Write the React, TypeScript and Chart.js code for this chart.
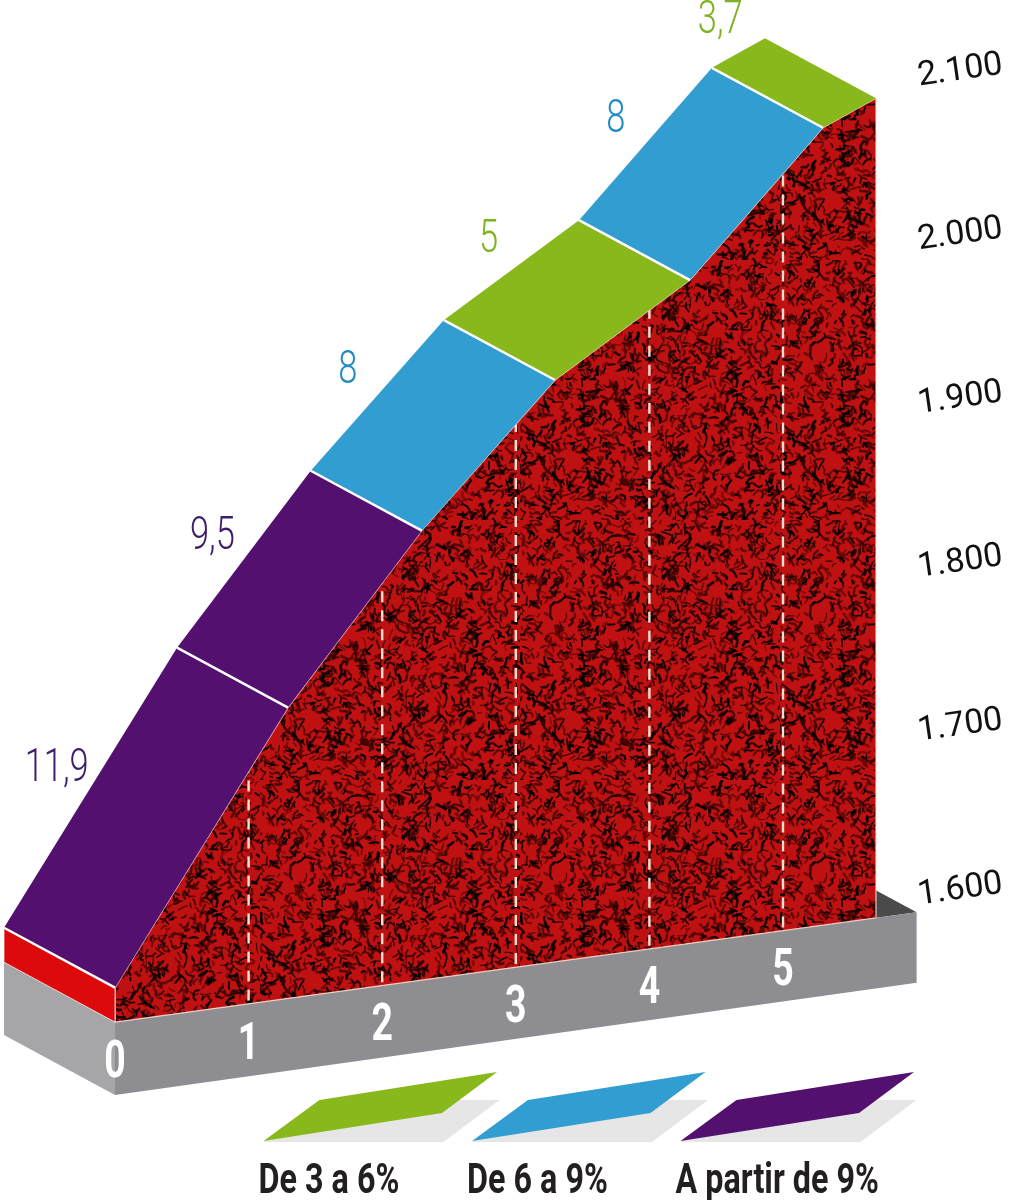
import React, { useEffect, useRef } from 'react';
import { Chart, registerables } from 'chart.js';

Chart.register(...registerables);

// ---------------- data ----------------
const kmTicks = [0, 1, 2, 3, 4, 5];
const altTicks = [1600, 1700, 1800, 1900, 2000, 2100];
// front edge of the climb profile (km, altitude on the drawn axis)
const profileKm = [0, 1.295, 2.296, 3.293, 4.304, 5.299, 5.696];
const profileAlt = [1544, 1715, 1823, 1915, 1976, 2069, 2087];
// gradient (%) of each stretch between the profile points
const gradients = [11.9, 9.5, 8, 5, 8, 3.7];
const gradientLabels = ['11,9', '9,5', '8', '5', '8', '3,7'];
// grey base slab (front face)
const baseKm = [0, 6.0];
const baseTopAlt = [1523, 1590];
const baseBottomAlt = [1478.5, 1547];
const legendLabels = ['De 3 a 6%', 'De 6 a 9%', 'A partir de 9%'];

// ---------------- style / geometry ----------------
const GREEN = '#88b81c';
const BLUE = '#329dd0';
const PURPLE = '#54106f';
const legendColors = [GREEN, BLUE, PURPLE];
const classColor = (g: number) => (g < 6 ? GREEN : g < 9 ? BLUE : PURPLE);
const labelColor = (g: number) => (g < 6 ? '#7db322' : g < 9 ? '#238bc4' : '#3b1d6d');

const DEPTH_KM = -0.831; // pseudo-3D depth offset (x)
const DEPTH_ALT = 36.6; // pseudo-3D depth offset (y)
const X_MIN = -0.8608;
const X_MAX = 6.0105;
const Y_MIN = 1414.4;
const Y_MAX = 2147.0;

function interp(xs: number[], ys: number[], v: number) {
  for (let i = 0; i < xs.length - 1; i++) {
    if (v <= xs[i + 1] || i === xs.length - 2) {
      const t = (v - xs[i]) / (xs[i + 1] - xs[i]);
      return ys[i] + t * (ys[i + 1] - ys[i]);
    }
  }
  return ys[0];
}

const fmt = (v: number) => `${Math.floor(v / 1000)}.${String(Math.round(v % 1000)).padStart(3, '0')}`;

function makeTexture(): any {
  const W = 260;
  const c = document.createElement('canvas');
  c.width = W;
  c.height = W;
  const g = c.getContext('2d');
  if (!g) return '#a80d0d';
  g.fillStyle = '#bf1111';
  g.fillRect(0, 0, W, W);
  let s = 987654321;
  const rnd = () => {
    s = (Math.imul(s, 1103515245) + 12345) >>> 0;
    return s / 4294967296;
  };
  g.lineCap = 'round';
  g.lineJoin = 'round';
  for (let i = 0; i < 2100; i++) {
    const x = rnd() * W;
    const y = rnd() * W;
    const a = rnd() * Math.PI * 2;
    const l = 1.5 + rnd() * 4.5;
    const b = a + (rnd() - 0.5) * 2.2;
    g.strokeStyle = `rgba(${rnd() < 0.25 ? 70 : 0},0,0,${0.4 + rnd() * 0.55})`;
    g.lineWidth = 1.1 + rnd() * 1.7;
    g.beginPath();
    g.moveTo(x, y);
    const mx = x + Math.cos(a) * l;
    const my = y + Math.sin(a) * l;
    g.lineTo(mx, my);
    g.lineTo(mx + Math.cos(b) * l * 0.7, my + Math.sin(b) * l * 0.7);
    g.stroke();
  }
  return g.createPattern(c, 'repeat') || '#a80d0d';
}

type P = { x: number; y: number };
const pt = (x: number, y: number): P => ({ x, y });
const back = (x: number, y: number): P => ({ x: x + DEPTH_KM, y: y + DEPTH_ALT });

const poly = (pts: P[], fill: any, stroke?: string, strokeWidth?: number) => ({
  type: 'line',
  data: pts,
  showLine: false,
  pointRadius: 0,
  clip: false,
  poly: { fill, stroke, strokeWidth },
});

const seg = (pts: P[], color: string, width: number, dash: number[] = []) => ({
  type: 'line',
  data: pts,
  showLine: true,
  borderColor: color,
  borderWidth: width,
  borderDash: dash,
  borderCapStyle: 'butt',
  pointRadius: 0,
  fill: false,
  tension: 0,
  clip: false,
});

function buildDatasets(texture: any) {
  const layers: any[] = [];
  const k0 = baseKm[0];
  const k1 = baseKm[1];
  // base top surface (dark)
  layers.push(poly([pt(k0, baseTopAlt[0]), pt(k1, baseTopAlt[1]), back(k1, baseTopAlt[1]), back(k0, baseTopAlt[0])], '#4a4a4b'));
  // base left face
  layers.push(poly([back(k0, baseTopAlt[0]), pt(k0, baseTopAlt[0]), pt(k0, baseBottomAlt[0]), back(k0, baseBottomAlt[0])], '#a6a6a9'));
  // base front face
  layers.push(poly([pt(k0, baseTopAlt[0]), pt(k1, baseTopAlt[1]), pt(k1, baseBottomAlt[1]), pt(k0, baseBottomAlt[0])], '#8e8e92'));
  // red front face of the mountain
  const endKm = profileKm[profileKm.length - 1];
  const face = profileKm.map((k, i) => pt(k, profileAlt[i]));
  face.push(pt(endKm, interp(baseKm, baseTopAlt, endKm)));
  face.push(pt(k0, baseTopAlt[0]));
  layers.push(poly(face, texture, 'rgba(255,226,212,0.85)', 1.2));
  // red side strip at the start
  layers.push(
    poly(
      [pt(profileKm[0], profileAlt[0]), back(profileKm[0], profileAlt[0]), back(k0, baseTopAlt[0]), pt(k0, baseTopAlt[0])],
      '#dc0a0a',
      'rgba(255,255,255,0.7)',
      1
    )
  );
  // dashed km markers
  kmTicks.slice(1).forEach((k) =>
    layers.push(seg([pt(k, interp(baseKm, baseTopAlt, k) + 2), pt(k, interp(profileKm, profileAlt, k))], '#f7dfcf', 2.4, [11, 8]))
  );
  // coloured top band
  gradients.forEach((g, i) =>
    layers.push(
      poly(
        [pt(profileKm[i], profileAlt[i]), pt(profileKm[i + 1], profileAlt[i + 1]), back(profileKm[i + 1], profileAlt[i + 1]), back(profileKm[i], profileAlt[i])],
        classColor(g)
      )
    )
  );
  // white separators between stretches
  for (let i = 0; i < profileKm.length - 1; i++) {
    layers.push(seg([pt(profileKm[i], profileAlt[i]), back(profileKm[i], profileAlt[i])], '#ffffff', 2.5));
  }
  const n = layers.length;
  return layers.map((d, i) => ({ ...d, order: n - i }));
}

const polyPlugin = {
  id: 'polyFill',
  beforeDatasetDraw(chart: any, args: any) {
    const ds = chart.data.datasets[args.index];
    if (!ds || !ds.poly) return;
    const pts = args.meta.data;
    if (!pts || !pts.length) return;
    const ctx = chart.ctx;
    ctx.save();
    ctx.beginPath();
    pts.forEach((p: any, i: number) => (i ? ctx.lineTo(p.x, p.y) : ctx.moveTo(p.x, p.y)));
    ctx.closePath();
    ctx.fillStyle = ds.poly.fill;
    ctx.fill();
    if (ds.poly.stroke) {
      ctx.strokeStyle = ds.poly.stroke;
      ctx.lineWidth = ds.poly.strokeWidth || 1;
      ctx.lineJoin = 'round';
      ctx.stroke();
    }
    ctx.restore();
  },
};

function drawText(ctx: any, text: string, cx: number, cy: number, font: string, size: number, color: string, sx: number, align = 'center') {
  ctx.save();
  ctx.translate(cx, cy + size * 0.711 * 0.5);
  ctx.scale(sx, 1);
  ctx.font = font;
  ctx.fillStyle = color;
  ctx.textAlign = align;
  ctx.textBaseline = 'alphabetic';
  ctx.fillText(text, 0, 0);
  ctx.restore();
}

const textPlugin = {
  id: 'climbText',
  afterDatasetsDraw(chart: any) {
    const { ctx } = chart;
    const xs = chart.scales.x;
    const ys = chart.scales.y;
    // gradient labels beside the back edge of each stretch
    gradients.forEach((g, i) => {
      const b0 = back(profileKm[i], profileAlt[i]);
      const b1 = back(profileKm[i + 1], profileAlt[i + 1]);
      const x0 = xs.getPixelForValue(b0.x);
      const y0 = ys.getPixelForValue(b0.y);
      const x1 = xs.getPixelForValue(b1.x);
      const y1 = ys.getPixelForValue(b1.y);
      const len = Math.hypot(x1 - x0, y1 - y0) || 1;
      const ux = (x1 - x0) / len;
      const uy = (y1 - y0) / len;
      const nx = uy;
      const ny = -ux;
      const cx = (x0 + x1) / 2 + nx * 41 + ux * 2;
      const cy = (y0 + y1) / 2 + ny * 41 + uy * 2;
      drawText(ctx, gradientLabels[i], cx, cy, '300 46px Roboto, "DejaVu Sans", sans-serif', 46, labelColor(g), 0.75);
    });
    // km numbers on the base
    kmTicks.forEach((k) => {
      const px = xs.getPixelForValue(k);
      const top = ys.getPixelForValue(interp(baseKm, baseTopAlt, k));
      const bot = ys.getPixelForValue(interp(baseKm, baseBottomAlt, k));
      drawText(ctx, String(k), px, (top + bot) / 2, 'bold 52px Roboto, "DejaVu Sans", sans-serif', 52, '#ffffff', 0.72);
    });
  },
  afterDraw(chart: any) {
    const { ctx } = chart;
    const LX = 263.5;
    const LY = 1141;
    const STEP = 208.5;
    legendLabels.forEach((t, i) => {
      const bx = LX + i * STEP;
      ctx.save();
      ctx.fillStyle = '#e6e6e7';
      ctx.beginPath();
      ctx.moveTo(bx, LY + 1);
      ctx.lineTo(bx + 56, LY - 41);
      ctx.lineTo(bx + 236, LY - 41);
      ctx.lineTo(bx + 180, LY + 1);
      ctx.closePath();
      ctx.fill();
      ctx.fillStyle = legendColors[i];
      ctx.beginPath();
      ctx.moveTo(bx, LY);
      ctx.lineTo(bx + 56, LY - 41);
      ctx.lineTo(bx + 233.5, LY - 69);
      ctx.lineTo(bx + 178.5, LY - 28);
      ctx.closePath();
      ctx.fill();
      ctx.restore();
      drawText(ctx, t, bx - 5, 1178, 'bold 42px Roboto, "DejaVu Sans", sans-serif', 42, '#231f20', 0.77, 'left');
    });
  },
};

export default function App() {
  const ref = useRef<HTMLCanvasElement | null>(null);
  useEffect(() => {
    document.body.style.margin = '0';
    document.body.style.background = '#ffffff';
    const canvas = ref.current;
    if (!canvas) return;
    const texture = makeTexture();
    const chart = new Chart(canvas, {
      type: 'line',
      data: { datasets: buildDatasets(texture) as any },
      options: {
        animation: false,
        responsive: false,
        events: [],
        layout: { padding: 0, autoPadding: false } as any,
        plugins: { legend: { display: false }, tooltip: { enabled: false } },
        scales: {
          x: { type: 'linear', display: false, min: X_MIN, max: X_MAX },
          y: {
            type: 'linear',
            position: 'right',
            min: Y_MIN,
            max: Y_MAX,
            afterBuildTicks: (axis: any) => {
              axis.ticks = altTicks.map((v) => ({ value: v }));
            },
            afterFit: (axis: any) => {
              axis.width = 93;
              axis.paddingTop = 0;
              axis.paddingBottom = 0;
              axis.paddingLeft = 0;
              axis.paddingRight = 0;
            },
            grid: { display: false, drawTicks: false },
            border: { display: false },
            ticks: {
              padding: 0,
              minRotation: 8,
              maxRotation: 8,
              autoSkip: false,
              color: '#111111',
              font: { family: 'Roboto, "DejaVu Sans", sans-serif', size: 34, weight: '400' as any },
              callback: (v: any) => fmt(Number(v)),
            },
          },
        } as any,
      },
      plugins: [polyPlugin, textPlugin],
    } as any);
    return () => chart.destroy();
  }, []);
  return <canvas ref={ref} width={1011} height={1200} style={{ display: 'block', width: '1011px', height: '1200px' }} />;
}
